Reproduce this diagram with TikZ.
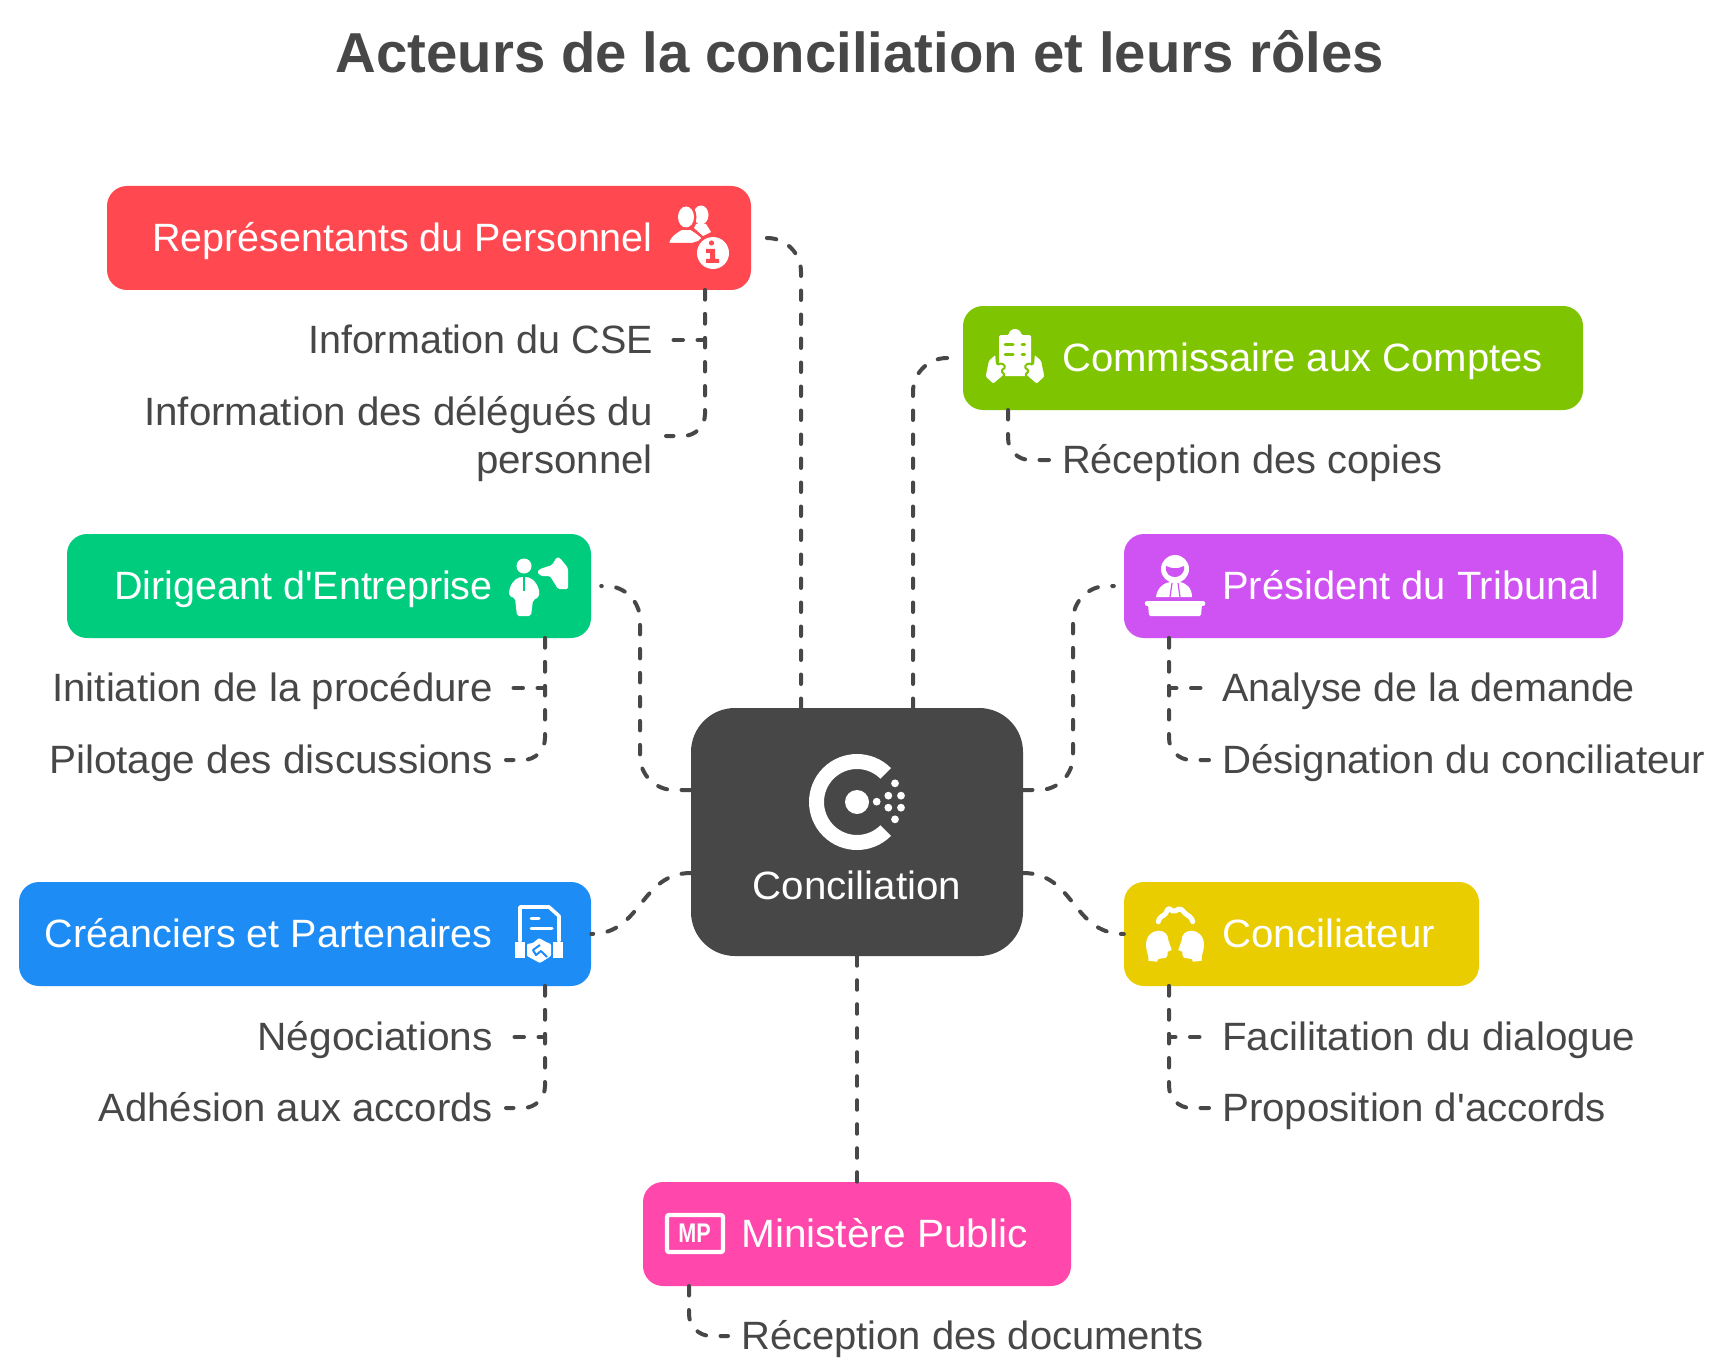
\documentclass[tikz,border=0pt]{standalone}
\usepackage{fontspec}
\setmainfont{Liberation Sans}
\newfontfamily\plainf{Liberation Sans}
\newcommand\apo{{\plainf'}}
\newcommand\sx[2]{\scalebox{#1}[1]{#2}}
\usetikzlibrary{calc}
\definecolor{ink}{HTML}{474747}
\definecolor{cred}{HTML}{FF484F}
\definecolor{clime}{HTML}{7FC400}
\definecolor{cpur}{HTML}{CF52F2}
\definecolor{cgreen}{HTML}{00CC7E}
\definecolor{cblue}{HTML}{1E8CF5}
\definecolor{cyel}{HTML}{EACD00}
\definecolor{cpink}{HTML}{FF47AC}
\tikzset{
 box/.style={rectangle,rounded corners=20pt,inner sep=0pt,draw=none},
 boxtext/.style={text=white,inner sep=0pt,text height=33.5pt,text depth=6.5pt,font=\fontsize{39.5}{47}\selectfont},
 lbl/.style={text=ink,inner sep=0pt,text height=33pt,text depth=7pt,font=\fontsize{39.5}{47}\selectfont},
 conn/.style={draw=ink,line width=4pt,line cap=round,dash pattern=on 9.5pt off 14.5pt},
 sconn/.style={conn,rounded corners=22pt},
 bconn/.style={conn,rounded corners=34pt,shorten >=10pt},
 icol/.style={draw=white,line width=4pt,line cap=round,line join=round},
}
\begin{document}
\begin{tikzpicture}[x=1pt,y=-1pt]
\useasboundingbox[fill=white] (0,0) rectangle (1729,1372);
\node[text=ink,inner sep=0pt,font=\bfseries\fontsize{56.3}{62}\selectfont] (title) at (860,52) {Acteurs de la conciliation et leurs rôles};
% boxes
\node[box,fill=ink,rounded corners=44pt,minimum width=332pt,minimum height=248pt] (ctr) at (857,832) {};
\node[box,fill=cred,minimum width=644pt,minimum height=104pt] (red) at (429,238) {};
\node[box,fill=clime,minimum width=620pt,minimum height=104pt] (lime) at (1273,358) {};
\node[box,fill=cpur,minimum width=499pt,minimum height=104pt] (pur) at (1373.5,586) {};
\node[box,fill=cgreen,minimum width=524pt,minimum height=104pt] (grn) at (329,586) {};
\node[box,fill=cblue,minimum width=572pt,minimum height=104pt] (blu) at (305,934) {};
\node[box,fill=cyel,minimum width=355pt,minimum height=104pt] (yel) at (1301.5,934) {};
\node[box,fill=cpink,minimum width=428pt,minimum height=104pt] (pnk) at (857,1234) {};
% box texts
\node[boxtext,anchor=center] (ctrt) at (857,886) {\sx{1.02}{Conciliation}};
\node[boxtext,anchor=east] (redt) at (653,238) {Représentants du Personnel};
\node[boxtext,anchor=west] (limet) at (1062,358) {\sx{1.014}{Commissaire aux Comptes}};
\node[boxtext,anchor=west] (purt) at (1222,586) {\sx{1.009}{Président du Tribunal}};
\node[boxtext,anchor=east] (grnt) at (493,586) {Dirigeant d\apo Entreprise};
\node[boxtext,anchor=east] (blut) at (493,934) {Créanciers et Partenaires};
\node[boxtext,anchor=west] (yelt) at (1222,934) {\sx{1.02}{Conciliateur}};
\node[boxtext,anchor=west] (pnkt) at (741,1234) {\sx{1.028}{Ministère Public}};
% labels
\node[lbl,anchor=east] (r1) at (653,340) {Information du CSE};
\node[text=ink,inner sep=0pt,anchor=east,align=right,font=\fontsize{39.5}{47.5}\selectfont] (r2) at (653,439) {\sx{1.02}{Information des délégués du}\\\sx{1.019}{personnel}};
\node[lbl,anchor=west] (l1) at (1062,460) {\sx{1.006}{Réception des copies}};
\node[lbl,anchor=west] (p1) at (1222,688) {Analyse de la demande};
\node[lbl,anchor=west] (p2) at (1222,760) {\sx{1.019}{Désignation du conciliateur}};
\node[lbl,anchor=east] (g1) at (493,688) {\sx{1.018}{Initiation de la procédure}};
\node[lbl,anchor=east] (g2) at (493,760) {\sx{1.026}{Pilotage des discussions}};
\node[lbl,anchor=east] (b1) at (493,1037) {\sx{1.03}{Négociations}};
\node[lbl,anchor=east] (b2) at (493,1108) {\sx{1.014}{Adhésion aux accords}};
\node[lbl,anchor=west] (y1) at (1222,1037) {\sx{1.022}{Facilitation du dialogue}};
\node[lbl,anchor=west] (y2) at (1222,1108) {\sx{1.02}{Proposition d\apo accords}};
\node[lbl,anchor=west] (k1) at (741,1336) {\sx{1.012}{Réception des documents}};
% main connectors
\coordinate (ct1) at (801,708);
\coordinate (ct2) at (913,708);
\coordinate (cr1) at (1023,790);
\coordinate (cr2) at (1023,873);
\coordinate (cl1) at (691,790);
\coordinate (cl2) at (691,873);
\draw[bconn] (ct1) |- (red.east);
\draw[bconn] (ct2) |- (lime.west);
\draw[bconn] (cr1) -| (1073,700) |- (pur.west);
\draw[bconn] (cl1) -| (640,700) |- (grn.east);
\draw[conn] (cl2) .. controls (640,873) and (642,934) .. (blu.east);
\draw[conn] (cr2) .. controls (1075,873) and (1072,934) .. (yel.west);
\draw[conn] (ctr.south) -- (pnk.north);
% sub connectors
\coordinate (rs) at (705,290);
\coordinate (ls) at (1008,410);
\coordinate (ps) at (1169,638);
\coordinate (gs) at (545,638);
\coordinate (bs) at (545,986);
\coordinate (ys) at (1169,986);
\coordinate (ks) at (689,1286);
\coordinate (r2c) at (653,436);
\draw[conn,shorten >=13pt] (rs) |- (r1.east);
\draw[sconn,shorten >=13pt] (rs) |- (r2c);
\draw[sconn,shorten >=13pt] (ls) |- (l1.west);
\draw[conn,shorten >=13pt] (ps) |- (p1.west);
\draw[sconn,shorten >=13pt] (ps) |- (p2.west);
\draw[conn,shorten >=13pt] (gs) |- (g1.east);
\draw[sconn,shorten >=13pt] (gs) |- (g2.east);
\draw[conn,shorten >=13pt] (bs) |- (b1.east);
\draw[sconn,shorten >=13pt] (bs) |- (b2.east);
\draw[conn,shorten >=13pt] (ys) |- (y1.west);
\draw[sconn,shorten >=13pt] (ys) |- (y2.west);
\draw[sconn,shorten >=13pt] (ks) |- (k1.west);
% centre icon
\fill[white] (857,802) ++(45:48) arc[start angle=45,end angle=315,radius=48] -- ($(857,802)+(315:33)$) arc[start angle=315,end angle=45,radius=33] -- cycle;
\fill[white] (857,802) circle (12);
\foreach \p/\q in {290/215,325/197,325/233,363/197,363/233,345/160,345/268}{\fill[white] ({780+\p/3},{730+\q/3}) circle (3.9);}
% red icon
\fill[white] (701,215) ellipse (7.5 and 9.5);
\fill[white] (696,224) -- (706,224) -- (711,232) -- (703,236) -- (694,228) -- cycle;
\fill[cred] (686,217) ellipse (10.5 and 13);
\fill[white] (686,217) ellipse (8 and 10.5);
\fill[white,draw=cred,line width=2pt] (668,244) .. controls (669,236) and (675,233) .. (681,229) -- (691,229) .. controls (696,232) and (700,235) .. (705,240) -- (692,244) -- cycle;
\fill[cred] (713,253) circle (19);
\fill[white] (713,253) circle (16);
\fill[cred] (711.5,243) circle (2.6);
\fill[cred] (706,249) -- (715,249) -- (715,259) -- (719,259) -- (719,263) -- (706,263) -- (706,259) -- (710,259) -- (710,253) -- (706,253) -- cycle;
% lime icon
\fill[white,rounded corners=1.5pt] (999,335) -- (1009,335) arc[start angle=180,end angle=360,radius=6] -- (1031,335) -- (1031,376) -- (999,376) -- cycle;
\draw[clime,line width=3pt,line cap=round] (1005,344) -- (1013,344) (1022,344) -- (1024.5,344) (1005,354) -- (1013,354) (1022,354) -- (1024.5,354);
\foreach \s in {1,-1}{
\begin{scope}[shift={(1015,0)},xscale=\s]
\filldraw[fill=white,draw=clime,line width=2pt,rounded corners=1.5pt] (-30.5,377) -- (-27,360) -- (-19,353) -- (-18,365) -- (-13.3,363) -- (-9.3,367) -- (-14,371) -- (-10,375) -- (-21.7,385) -- cycle;
\end{scope}}
% purple icon
\fill[white] (1175,569) circle (14);
\fill[cpur] (1166,566) .. controls (1172,569) and (1178,569) .. (1184,566) .. controls (1185,574) and (1179,577) .. (1175,577) .. controls (1170,577) and (1165,574) .. (1166,566) -- cycle;
\fill[white] (1156,597) .. controls (1157,588) and (1164,582) .. (1172,582) -- (1178,582) .. controls (1186,582) and (1192,588) .. (1192,597) -- cycle;
\draw[cpur,line width=1.2pt] (1172,583) -- (1170,597) (1178,583) -- (1180,597);
\draw[white,line width=4.5pt,line cap=round] (1147,603.5) -- (1203,603.5);
\fill[white,rounded corners=1.5pt] (1148,604) -- (1202,604) -- (1201,616) -- (1149,616) -- cycle;
% green icon
\fill[white] (524,566) circle (7.5);
\fill[white,rounded corners=2pt] (521,577) .. controls (514,579) and (509,586) .. (509,596) -- (515,598) -- (517,616) -- (531,616) -- (533,600) -- (539,597) .. controls (540,587) and (534,579) .. (527,577) -- cycle;
\draw[cgreen,line width=2pt] (524,577) -- (524,591);
\fill[white,rounded corners=1.5pt] (537,572) -- (540,569) -- (552,565) -- (557,557) -- (560,558) -- (568,568) -- (568,589) -- (558,589) -- (550,576) -- (541,576) -- cycle;
% blue icon
\draw[icol,line width=3.6pt] (520,941) -- (520,907) -- (549,907) -- (559,916) -- (559,941);
\draw[icol,line width=3pt] (531,918) -- (539,918) (531,928) -- (552,928);
\fill[white] (515,942) -- (525,942) -- (525,958) -- (515,958) -- cycle;
\fill[white] (553,942) -- (563,942) -- (563,958) -- (553,958) -- cycle;
\fill[white,rounded corners=1pt] (527,944) -- (533,943) -- (539,938) -- (546,942) -- (551,944) -- (551,956) -- (540,963) -- (527,956) -- cycle;
\draw[cblue,line width=2pt,line join=round] (540,945) -- (533,950) -- (536,955) -- (541,951) -- (547,957);
% yellow icon
\draw[icol,line width=5pt,rounded corners=2pt] (1158.3,921.7) -- (1160,917) -- (1165,915) -- (1168.3,908) -- (1174,912) -- (1180,908) -- (1186.7,915) -- (1191,917) -- (1192.7,921.7);
\foreach \s in {1,-1}{
\begin{scope}[shift={(1175,0)},xscale=\s]
\fill[white] (-26.7,960.7) .. controls (-26,955) and (-29,951) .. (-29,945) .. controls (-29,936) and (-23,930.7) .. (-16.7,930.7) .. controls (-10,930.7) and (-6.7,935) .. (-6.7,940) -- (-3.3,950) -- (-7.3,951.7) -- (-7.5,955) -- (-9,957.7) -- (-16.7,959) -- (-18,961.7) -- cycle;
\end{scope}}
% pink icon
\draw[white,line width=4.2pt,rounded corners=2pt] (667,1215) rectangle (723,1252);
\node[text=white,inner sep=0pt,font=\bfseries\fontsize{27}{27}\selectfont] (mp) at (694.5,1233.5) {\sx{0.8}{MP}};
\end{tikzpicture}
\end{document}
